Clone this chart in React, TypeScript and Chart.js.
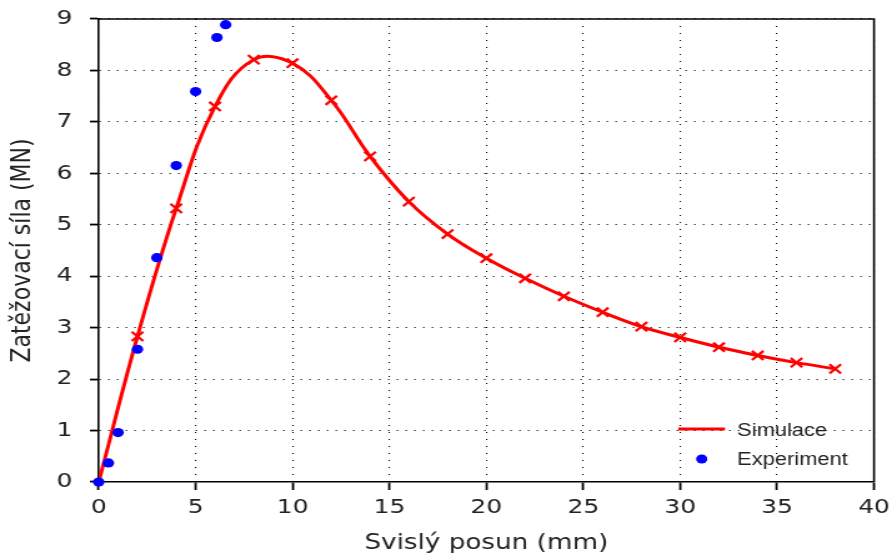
import React, { useEffect, useRef } from "react";
import { Chart, registerables } from "chart.js";

Chart.register(...registerables);

// ---- data ----
const simX = [0, 2, 4, 6, 8, 10, 12, 14, 16, 18, 20, 22, 24, 26, 28, 30, 32, 34, 36, 38];
const simY = [0, 2.83, 5.32, 7.3, 8.21, 8.14, 7.42, 6.33, 5.45, 4.82, 4.35, 3.96, 3.61, 3.3, 3.02, 2.81, 2.62, 2.46, 2.32, 2.2];
const expX = [0, 0.5, 1, 2, 3, 4, 5, 6.1, 6.55];
const expY = [0, 0.37, 0.96, 2.58, 4.36, 6.15, 7.59, 8.64, 8.89];
const legendLabels = ["Simulace", "Experiment"];
const xTitle = "Svislý posun (mm)";
const yTitle = "Zatěžovací síla (MN)";

// ---- layout ----
const OUT_W = 892;
const OUT_H = 557;
const STRETCH = 1.2493;
const CANVAS_W = Math.round(OUT_W / STRETCH);
const AREA_LEFT = 79;
const AREA_RIGHT_PAD = 14.4;
const AREA_TOP = 19;
const X_AXIS_H = OUT_H - 482;

const frameAndLegend = {
  id: "frameAndLegend",
  beforeDatasetsDraw(chart: any) {
    const { ctx, chartArea: a } = chart;
    ctx.save();
    ctx.strokeStyle = "#000";
    ctx.lineWidth = 1.6;
    ctx.beginPath();
    ctx.moveTo(a.left, a.top);
    ctx.lineTo(a.right, a.top);
    ctx.lineTo(a.right, a.bottom);
    ctx.stroke();
    ctx.restore();
  },
  afterDraw(chart: any) {
    const { ctx, chartArea: a } = chart;
    ctx.save();
    // Simulace
    ctx.strokeStyle = "#ff0000";
    ctx.lineWidth = 3;
    ctx.beginPath();
    ctx.moveTo(a.right - 156.7, a.bottom - 53);
    ctx.lineTo(a.right - 119.3, a.bottom - 53);
    ctx.stroke();
    // Experiment
    ctx.fillStyle = "#0000ff";
    ctx.beginPath();
    ctx.arc(a.right - 137.9, a.bottom - 23, 4.5, 0, Math.PI * 2);
    ctx.fill();
    ctx.fillStyle = "#222";
    ctx.font = "17.5px 'Liberation Sans', Arial, sans-serif";
    ctx.textBaseline = "alphabetic";
    ctx.textAlign = "left";
    ctx.fillText(legendLabels[0], a.right - 109.5, a.bottom - 46.5);
    ctx.fillText(legendLabels[1], a.right - 109.5, a.bottom - 17.5);
    ctx.restore();
  },
};

export default function App() {
  const ref = useRef<HTMLCanvasElement | null>(null);
  useEffect(() => {
    if (!ref.current) return;
    const chart = new Chart(ref.current, {
      type: "scatter",
      data: {
        datasets: [
          {
            label: legendLabels[0],
            data: simX.map((x, i) => ({ x, y: simY[i] })),
            showLine: true,
            borderColor: "#ff0000",
            backgroundColor: "#ff0000",
            borderWidth: 3,
            tension: 0.4,
            pointStyle: "crossRot",
            pointRadius: (c: any) => (c.dataIndex === 0 ? 0 : 6.5),
            pointBorderWidth: 2.2,
            pointBorderColor: "#ff0000",
            order: 1,
          },
          {
            label: legendLabels[1],
            data: expX.map((x, i) => ({ x, y: expY[i] })),
            showLine: false,
            clip: false,
            borderColor: "#0000ff",
            backgroundColor: "#0000ff",
            pointStyle: "circle",
            pointRadius: 4.6,
            pointBorderWidth: 0,
            order: 0,
          },
        ],
      },
      options: {
        responsive: false,
        animation: false,
        devicePixelRatio: 1,
        layout: { padding: { left: 0, right: AREA_RIGHT_PAD, top: AREA_TOP, bottom: 0 } },
        plugins: { legend: { display: false }, tooltip: { enabled: false } },
        scales: {
          x: {
            type: "linear",
            min: 0,
            max: 40,
            ticks: {
              stepSize: 5,
              color: "#222",
              padding: 6,
              font: { family: "'DejaVu Sans', sans-serif", size: 20 },
            },
            grid: {
              color: "#000",
              lineWidth: 1.1,
              drawTicks: true,
              tickLength: 8,
              tickColor: "#000",
              tickWidth: 1.8,
            },
            border: { display: true, color: "#000", width: 1.6, dash: [1.1, 5.9] },
            title: {
              display: true,
              text: xTitle,
              color: "#222",
              font: { family: "'DejaVu Sans', sans-serif", size: 21 },
              padding: { top: 0, bottom: 1 },
            },
            afterFit(scale: any) {
              scale.height = X_AXIS_H;
              scale.paddingLeft = 0;
              scale.paddingRight = 0;
            },
          },
          y: {
            type: "linear",
            min: 0,
            max: 9,
            ticks: {
              stepSize: 1,
              color: "#222",
              padding: 14,
              font: { family: "'DejaVu Sans', sans-serif", size: 20 },
            },
            grid: {
              color: "#000",
              lineWidth: 1.1,
              drawTicks: true,
              tickLength: 7,
              tickColor: "#000",
              tickWidth: 1.8,
            },
            border: { display: true, color: "#000", width: 1.6, dash: [1.1, 5.9] },
            title: {
              display: true,
              text: yTitle,
              color: "#222",
              font: { family: "'DejaVu Sans', sans-serif", size: 22 },
              padding: { top: 5, bottom: 0 },
            },
            afterFit(scale: any) {
              scale.width = AREA_LEFT;
              scale.paddingTop = 0;
              scale.paddingBottom = 0;
            },
          },
        },
      },
      plugins: [frameAndLegend],
    });
    return () => chart.destroy();
  }, []);
  return (
    <canvas
      ref={ref}
      width={CANVAS_W}
      height={OUT_H}
      style={{
        position: "fixed",
        left: 0,
        top: 0,
        width: OUT_W + "px",
        height: OUT_H + "px",
        display: "block",
      }}
    />
  );
}
